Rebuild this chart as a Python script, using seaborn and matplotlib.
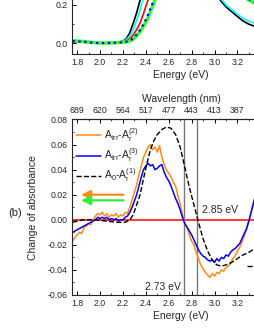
import numpy as np
import pandas as pd
import matplotlib
matplotlib.use("Agg")
import matplotlib.pyplot as plt
from matplotlib.ticker import MultipleLocator
import seaborn as sns

# ----------------------------------------
# Data
# ----------------------------------------
# top panel: absorbance spectra
e_top = [1.76, 1.80, 1.85, 1.90, 1.95, 2.00, 2.05, 2.10, 2.15, 2.20, 2.23, 2.26,
         2.29, 2.32, 2.35, 2.38, 2.41, 2.44, 2.47, 2.50, 2.55, 2.60, 2.70, 2.80,
         2.90, 3.00, 3.05, 3.10, 3.15, 3.20, 3.25, 3.30, 3.35, 3.40]
abs_black = [0.012, 0.010, 0.008, 0.006, 0.003, 0.002, 0.002, 0.003, 0.005, 0.012, 0.025, 0.055,
             0.105, 0.160, 0.225, 0.29, 0.35, 0.40, 0.44, 0.47, 0.50, 0.52, 0.53, 0.50,
             0.42, 0.29, 0.225, 0.19, 0.165, 0.14, 0.116, 0.10, 0.089, 0.08]
abs_cyan = [0.010, 0.009, 0.007, 0.005, 0.003, 0.002, 0.002, 0.003, 0.005, 0.010, 0.020, 0.038,
            0.07, 0.12, 0.175, 0.24, 0.30, 0.36, 0.41, 0.45, 0.49, 0.51, 0.52, 0.50,
            0.43, 0.30, 0.235, 0.20, 0.175, 0.152, 0.13, 0.115, 0.105, 0.097]
abs_red = [0.008, 0.007, 0.006, 0.004, 0.002, 0.001, 0.001, 0.002, 0.004, 0.008, 0.013, 0.024,
           0.044, 0.072, 0.106, 0.155, 0.21, 0.26, 0.31, 0.35, 0.40, 0.44, 0.48, 0.49,
           0.47, 0.43, 0.40, 0.37, 0.35, 0.33, 0.31, 0.30, 0.28, 0.26]
abs_green = [0.014, 0.012, 0.010, 0.007, 0.004, 0.002, 0.002, 0.003, 0.004, 0.006, 0.008, 0.012,
             0.022, 0.040, 0.062, 0.09, 0.12, 0.165, 0.21, 0.26, 0.33, 0.38, 0.44, 0.46,
             0.44, 0.40, 0.37, 0.33, 0.30, 0.27, 0.245, 0.225, 0.21, 0.20]
abs_blue = [0.012, 0.011, 0.009, 0.006, 0.003, 0.002, 0.002, 0.003, 0.004, 0.006, 0.009, 0.014,
            0.026, 0.046, 0.07, 0.10, 0.135, 0.18, 0.225, 0.27, 0.34, 0.39, 0.45, 0.47,
            0.45, 0.41, 0.38, 0.34, 0.31, 0.28, 0.255, 0.23, 0.215, 0.205]

# bottom panel: difference spectra
energy = np.round(np.arange(1.76, 3.41, 0.02), 2)
d_orange = [-0.017, -0.014, -0.012, -0.010, -0.011, -0.006, -0.005, -0.003, -0.004, 0.000,
            0.003, 0.005, 0.004, 0.006, 0.003, 0.005, 0.002, 0.004, 0.003, 0.005,
            0.002, 0.004, 0.003, 0.006, 0.005, 0.010, 0.016, 0.022, 0.028, 0.036,
            0.043, 0.050, 0.054, 0.058, 0.060, 0.056, 0.058, 0.054, 0.059, 0.050,
            0.044, 0.040, 0.037, 0.034, 0.030, 0.027, 0.019, 0.013, 0.004, -0.003,
            -0.006, -0.012, -0.017, -0.020, -0.026, -0.031, -0.036, -0.039, -0.042, -0.044,
            -0.046, -0.043, -0.045, -0.042, -0.043, -0.040, -0.041, -0.038, -0.037, -0.035,
            -0.031, -0.029, -0.025, -0.022, -0.018, -0.013, -0.008, -0.001, 0.006, 0.014,
            0.020, 0.027, 0.034]
d_blue = [-0.010, -0.009, -0.008, -0.007, -0.006, -0.005, -0.004, -0.003, -0.002, -0.001,
          0.000, 0.002, 0.001, 0.002, 0.001, 0.002, 0.000, 0.001, 0.000, 0.001,
          -0.001, 0.000, 0.000, 0.002, 0.003, 0.006, 0.010, 0.015, 0.020, 0.027,
          0.034, 0.040, 0.043, 0.045, 0.043, 0.044, 0.040, 0.041, 0.043, 0.044,
          0.038, 0.034, 0.031, 0.027, 0.022, 0.017, 0.013, 0.008, 0.002, -0.003,
          -0.006, -0.009, -0.012, -0.016, -0.020, -0.024, -0.027, -0.029, -0.030, -0.032,
          -0.033, -0.032, -0.034, -0.031, -0.033, -0.030, -0.031, -0.028, -0.029, -0.026,
          -0.024, -0.023, -0.021, -0.019, -0.015, -0.011, -0.007, -0.001, 0.006, 0.013,
          0.020, 0.027, 0.034]
e_dash = [1.76, 1.85, 1.95, 2.05, 2.15, 2.22, 2.26, 2.29, 2.32, 2.35, 2.38, 2.41,
          2.44, 2.47, 2.50, 2.54, 2.58, 2.62, 2.66, 2.70, 2.74, 2.78, 2.82, 2.86,
          2.90, 2.94, 2.98, 3.02, 3.06, 3.10, 3.15, 3.20, 3.25, 3.30, 3.35, 3.40]
d_dash = [-0.002, 0.0, 0.0, -0.001, -0.002, -0.002, 0.0, 0.004, 0.012, 0.020, 0.033, 0.045,
          0.056, 0.063, 0.068, 0.072, 0.074, 0.073, 0.068, 0.058, 0.042, 0.026, 0.012, -0.002,
          -0.015, -0.025, -0.032, -0.036, -0.037, -0.036, -0.034, -0.031, -0.028, -0.026, -0.023, -0.020]
e_dash2 = [3.28, 3.40]
d_dash2 = [-0.037, -0.037]

edges = [2.73, 2.85]
e_ticks = [1.8, 2.0, 2.2, 2.4, 2.6, 2.8, 3.0, 3.2]
wl_labels = ['689', '620', '564', '517', '477', '443', '413', '387']

# ----------------------------------------
# Style
# ----------------------------------------
sns.set_theme(style="ticks")
plt.rcParams['font.family'] = ['Liberation Sans', 'DejaVu Sans']
plt.rcParams['mathtext.default'] = 'regular'
plt.rcParams['axes.linewidth'] = 0.8

fig = plt.figure(figsize=(2.55, 3.3), dpi=100)
ax_top = fig.add_axes([0.2824, 0.8364, 0.855, 0.2654])
ax = fig.add_axes([0.2824, 0.1061, 0.855, 0.5318])

tick_kw = dict(direction='in', labelsize=6.3, width=0.7, color='black', pad=3)

# ----------------------------------------
# Top panel
# ----------------------------------------
sns.lineplot(x=e_top, y=abs_black, ax=ax_top, color='black', lw=1.2)
sns.lineplot(x=e_top, y=abs_cyan, ax=ax_top, color='cyan', lw=1.2)
sns.lineplot(x=e_top, y=abs_red, ax=ax_top, color='red', lw=1.2)
sns.lineplot(x=e_top, y=abs_green, ax=ax_top, color='#33ff33', lw=2.5)
sns.lineplot(x=e_top, y=abs_blue, ax=ax_top, color='blue', lw=1.6, linestyle=':')
ax_top.set_xlim(1.755, 3.66)
ax_top.set_ylim(-0.055, 0.4)
ax_top.set_xticks(e_ticks)
ax_top.xaxis.set_minor_locator(MultipleLocator(0.1))
ax_top.set_yticks([0.0, 0.2])
ax_top.yaxis.set_minor_locator(MultipleLocator(0.1))
ax_top.tick_params(which='major', length=3, **tick_kw)
ax_top.tick_params(which='minor', length=1.5, direction='in', width=0.6)
ax_top.set_xlabel("Energy (eV)", fontsize=7.5, labelpad=2)

# ----------------------------------------
# Bottom panel
# ----------------------------------------
ax.axhline(0, color='red', lw=1.1, zorder=1)
for e in edges:
    ax.axvline(e, color='#777777', lw=1.0, zorder=1)
sns.lineplot(x=energy, y=d_orange, ax=ax, color='#ff8c1a', lw=1.1,
             label=r'A$_{irr}$-A$_{r}^{(2)}$')
sns.lineplot(x=energy, y=d_blue, ax=ax, color='blue', lw=1.1,
             label=r'A$_{irr}$-A$_{r}^{(3)}$')
sns.lineplot(x=e_dash, y=d_dash, ax=ax, color='black', lw=1.0, linestyle='--',
             label=r'A$_{0}$-A$_{r}^{(1)}$')
sns.lineplot(x=e_dash2, y=d_dash2, ax=ax, color='black', lw=1.0, linestyle='--')

ax.annotate('', xy=(1.81, 0.020), xytext=(2.23, 0.020),
            arrowprops=dict(arrowstyle='-|>,head_width=0.22,head_length=0.45',
                            color='#ff8c1a', lw=1.6))
ax.annotate('', xy=(1.81, 0.0155), xytext=(2.23, 0.0155),
            arrowprops=dict(arrowstyle='-|>,head_width=0.22,head_length=0.45',
                            color='#33ee33', lw=1.6))

ax.text(2.895, 0.0075, "2.85 eV", fontsize=7.5, va='center', ha='left')
ax.text(2.705, -0.0535, "2.73 eV", fontsize=7.5, va='center', ha='right')

ax.set_xlim(1.755, 3.66)
ax.set_ylim(-0.06, 0.08)
ax.set_xticks(e_ticks)
ax.xaxis.set_minor_locator(MultipleLocator(0.1))
ax.yaxis.set_major_locator(MultipleLocator(0.02))
ax.yaxis.set_minor_locator(MultipleLocator(0.01))
ax.yaxis.set_major_formatter(plt.FuncFormatter(lambda v, p: f"{v:.2f}"))
ax.tick_params(which='major', length=3, **tick_kw)
ax.tick_params(which='minor', length=1.5, direction='in', width=0.6)
ax.set_xlabel("Energy (eV)", fontsize=7.5, labelpad=2)
ax.set_ylabel("Change of absorbance", fontsize=7.5)
ax.yaxis.set_label_coords(-0.155, 0.5)

sec = ax.secondary_xaxis('top')
sec.set_xticks(e_ticks, labels=wl_labels)
sec.xaxis.set_minor_locator(MultipleLocator(0.1))
sec.tick_params(which='major', length=3, **tick_kw)
sec.tick_params(which='minor', length=1.5, direction='in', width=0.6)
sec.set_xlabel("Wavelength (nm)", fontsize=7.5, labelpad=3)

leg = ax.legend(loc='upper left', bbox_to_anchor=(-0.01, 0.995), frameon=False,
                fontsize=7.5, handlelength=2.4, handletextpad=0.3, labelspacing=0.3,
                borderaxespad=0.2)

fig.text(0.058, 0.355, "(b)", fontsize=8, ha='center', va='center')

fig.savefig("out.png", dpi=100)
